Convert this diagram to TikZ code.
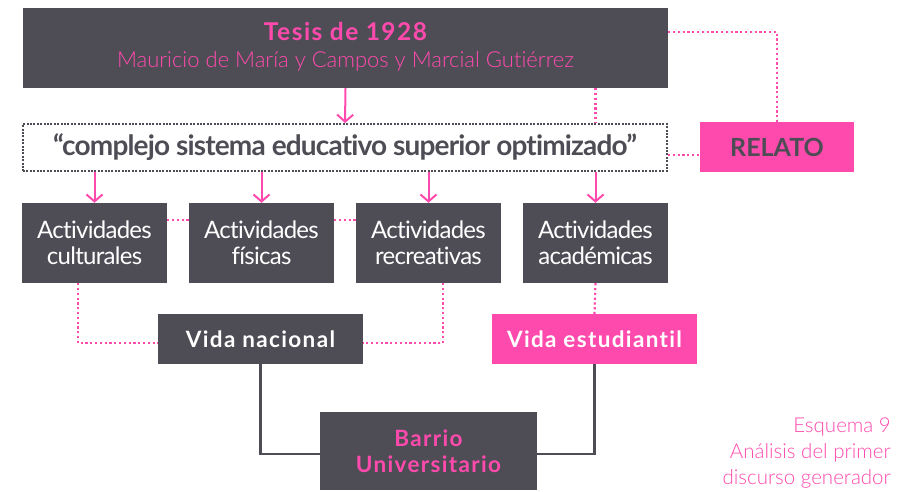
\documentclass[tikz,border=0pt]{standalone}
\usepackage{fontspec}
\setmainfont{Lato}[Ligatures={NoCommon}]
\newfontfamily\lightfont{Lato Light}[Ligatures={NoCommon}]
\newfontfamily\widefont[LetterSpace=6,Ligatures={NoCommon}]{Lato}
\newfontfamily\tightfont[LetterSpace=-3,Ligatures={NoCommon}]{Lato}
\usetikzlibrary{arrows.meta}
\definecolor{dk}{HTML}{4E4D55}
\definecolor{pk}{HTML}{FF4AAD}
\begin{document}
\begin{tikzpicture}[x=1pt,y=-1pt,
  box/.style={fill=dk,inner sep=0pt,anchor=center},
  actbox/.style={box,minimum width=145pt,minimum height=80pt,text=white,align=center,font=\tightfont\fontsize{24}{26}\selectfont},
  pd/.style={pk,line width=2.2pt,dash pattern=on 2.2pt off 2.6pt},
  arr/.style={pk,line width=2pt,-{Straight Barb[length=7pt,width=16pt,line width=2pt]}},
  solid/.style={dk,line width=2.2pt}]
\useasboundingbox (0,0) rectangle (915,492);
\node[box,minimum width=645pt,minimum height=80pt,text=pk] (top) at (345.5,48) {};
\node[text=pk,inner sep=0pt,anchor=base,font=\widefont\bfseries\fontsize{24.5}{28}\selectfont] (title) at (345.5,41) {Tesis de 1928};
\node[text=pk,inner sep=0pt,anchor=base,font=\lightfont\fontsize{22}{24}\selectfont] (sub) at (345.5,68) {Mauricio de María y Campos y Marcial Gutiérrez};
\node[draw=dk,line width=2pt,dash pattern=on 2pt off 1.4pt,minimum width=644pt,minimum height=47pt,inner sep=0pt,text=dk,font=\tightfont\bfseries\fontsize{28}{30}\selectfont] (quote) at (345,147.5)
  {“complejo sistema educativo superior optimizado”};
\node[box,fill=pk,minimum width=154pt,minimum height=50pt,text=dk,font=\bfseries\fontsize{25}{28}\selectfont] (relato) at (777,147) {RELATO};
\node[actbox] (a1) at (94.5,243) {Actividades\\culturales};
\node[actbox] (a2) at (261.5,243) {Actividades\\físicas};
\node[actbox] (a3) at (428.5,243) {Actividades\\recreativas};
\node[actbox] (a4) at (595.5,243) {Actividades\\académicas};
\node[box,minimum width=205pt,minimum height=50pt,text=white,font=\widefont\bfseries\fontsize{22.5}{26}\selectfont] (vn) at (260.5,339) {Vida nacional};
\node[box,fill=pk,minimum width=205pt,minimum height=50pt,text=white,font=\widefont\bfseries\fontsize{22.5}{26}\selectfont] (ve) at (594.5,339) {Vida estudiantil};
\node[box,minimum width=217pt,minimum height=78pt,text=pk,align=center,font=\widefont\bfseries\fontsize{22.5}{26}\selectfont] (bu) at (428.5,451) {Barrio\\Universitario};
\node[anchor=east,align=right,text=pk,inner sep=0pt,font=\lightfont\fontsize{20.5}{26}\selectfont] (cap) at (891,453) {Esquema 9\\Análisis del primer\\discurso generador};
% connectors
\draw[arr] (top.south) -- (quote.north);
\draw[pd] (top.south -| a4) -- (quote.north -| a4);
\draw[pd] ([yshift=16pt]top.east) -| (relato.north);
\draw[pd] ([yshift=-7.5pt]quote.east) -- ([yshift=-7.5pt]quote.east -| relato.west);
\foreach \n in {a1,a2,a3,a4} \draw[arr] (quote.south -| \n) -- (\n.north);
\draw[pd] ([yshift=23pt]a1.east) -- ([yshift=23pt]a2.west);
\draw[pd] ([yshift=23pt]a2.east) -- ([yshift=23pt]a3.west);
\draw[pd] ([xshift=-16.5pt]a1.south) |- ([yshift=-4pt]vn.west);
\draw[pd] ([xshift=14.5pt]a3.south) |- ([yshift=-4pt]vn.east);
\draw[pd] (a4.south) -- (ve.north);
\draw[solid] (vn.south) |- ([yshift=-3pt]bu.west);
\draw[solid] (ve.south) |- ([yshift=-3pt]bu.east);
\end{tikzpicture}
\end{document}
